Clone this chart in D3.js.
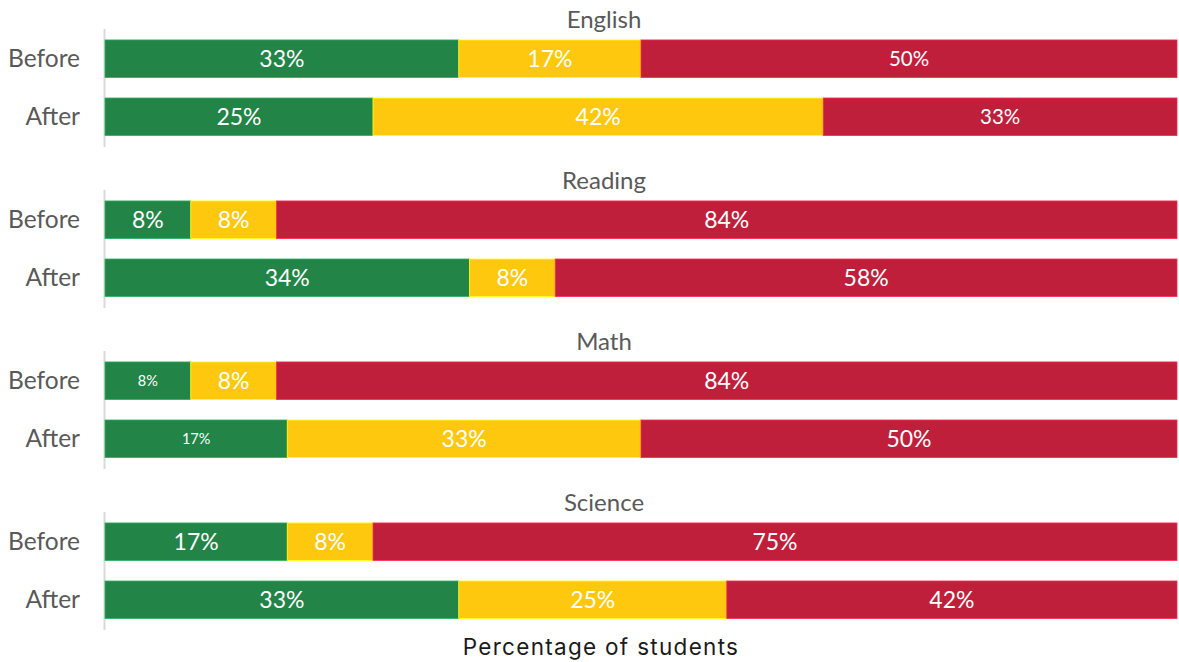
<!DOCTYPE html>
<html>
<head>
<meta charset="utf-8">
<script src="https://cdn.jsdelivr.net/npm/d3@7"></script>
<style>
  body { margin: 0; background: #fff; }
  svg { display: block; }
</style>
</head>
<body>
<svg id="chart" width="1179" height="662"></svg>
<script>
// data
const subjects = ["English", "Reading", "Math", "Science"];
const phases = ["Before", "After"];
const levels = ["green", "yellow", "red"];

const greenValues  = { English: [33, 25], Reading: [8, 34], Math: [8, 17], Science: [17, 33] };
const yellowValues = { English: [17, 42], Reading: [8, 8],  Math: [8, 33], Science: [8, 25] };
const redValues    = { English: [50, 33], Reading: [84, 58], Math: [84, 50], Science: [75, 42] };

const xTicks = [0, 100];

const width = 1179;
const height = 662;

const colors = { green: "#228446", yellow: "#FEC80F", red: "#BF1F3B" };

// label font size tweaks, the rest use the default
function labelSize(subject, level) {
    if (subject === "Math" && level === "green") return 14.5;
    if (subject === "English" && level === "red") return 20.5;
    return 23;
}

const svg = d3.select("#chart");

const x = d3.scaleLinear().domain(xTicks).range([105, 1177]);

const outer = d3.scaleBand().domain(subjects).range([0, 644]);

const y = d3.scaleBand().domain(phases)
    .range([29.5, 146])
    .paddingInner(0.353)
    .paddingOuter(0.18);

// build stacked rows
const rows = [];
subjects.forEach(s => {
    phases.forEach((p, i) => {
        let start = 0;
        const vals = { green: greenValues[s][i], yellow: yellowValues[s][i], red: redValues[s][i] };
        levels.forEach(l => {
            rows.push({ subject: s, phase: p, level: l, x0: start, x1: start + vals[l], value: vals[l] });
            start += vals[l];
        });
    });
});

const panels = svg.selectAll("g.panel")
    .data(subjects)
    .join("g")
    .attr("class", "panel")
    .attr("transform", d => `translate(0,${outer(d)})`);

// axis line on the left
panels.append("line")
    .attr("x1", 104.5).attr("x2", 104.5)
    .attr("y1", y.range()[0] - 0.5)
    .attr("y2", y.range()[1] + 1)
    .attr("stroke", "#d9d9d9")
    .attr("stroke-width", 2);

// subject title
panels.append("text")
    .attr("x", 604)
    .attr("y", y("Before") + y.bandwidth() / 2 - 39)
    .attr("dy", "0.35em")
    .attr("text-anchor", "middle")
    .attr("font-family", "Lato, 'Open Sans', sans-serif")
    .attr("font-size", "24px")
    .attr("fill", "#595959")
    .text(d => d);

// category labels
panels.selectAll("text.cat")
    .data(phases)
    .join("text")
    .attr("class", "cat")
    .attr("x", 80)
    .attr("y", d => y(d) + y.bandwidth() / 2)
    .attr("dy", "0.35em")
    .attr("text-anchor", "end")
    .attr("font-family", "Lato, 'Open Sans', sans-serif")
    .attr("font-size", "24.5px")
    .attr("fill", "#595959")
    .text(d => d);

// bars
panels.selectAll("rect.seg")
    .data(s => rows.filter(r => r.subject === s))
    .join("rect")
    .attr("class", "seg")
    .attr("x", d => x(d.x0))
    .attr("y", d => y(d.phase))
    .attr("width", d => x(d.x1) - x(d.x0))
    .attr("height", y.bandwidth())
    .attr("fill", d => colors[d.level])
    .attr("stroke", d => d3.color(colors[d.level]).brighter(0.8))
    .attr("stroke-width", 0.8);

// value labels
panels.selectAll("text.val")
    .data(s => rows.filter(r => r.subject === s))
    .join("text")
    .attr("class", "val")
    .attr("x", d => (x(d.x0) + x(d.x1)) / 2)
    .attr("y", d => y(d.phase) + y.bandwidth() / 2)
    .attr("dy", "0.35em")
    .attr("text-anchor", "middle")
    .attr("font-family", "Lato, 'Open Sans', sans-serif")
    .attr("font-size", d => labelSize(d.subject, d.level) + "px")
    .attr("fill", "#fff")
    .text(d => d.value + "%");

// axis title
svg.append("text")
    .attr("x", 601)
    .attr("y", 655)
    .attr("text-anchor", "middle")
    .attr("font-family", "Inter, 'Noto Sans', sans-serif")
    .attr("font-size", "22.5px")
    .attr("letter-spacing", "1.3px")
    .attr("fill", "#1a1a1a")
    .text("Percentage of students");
</script>
</body>
</html>
